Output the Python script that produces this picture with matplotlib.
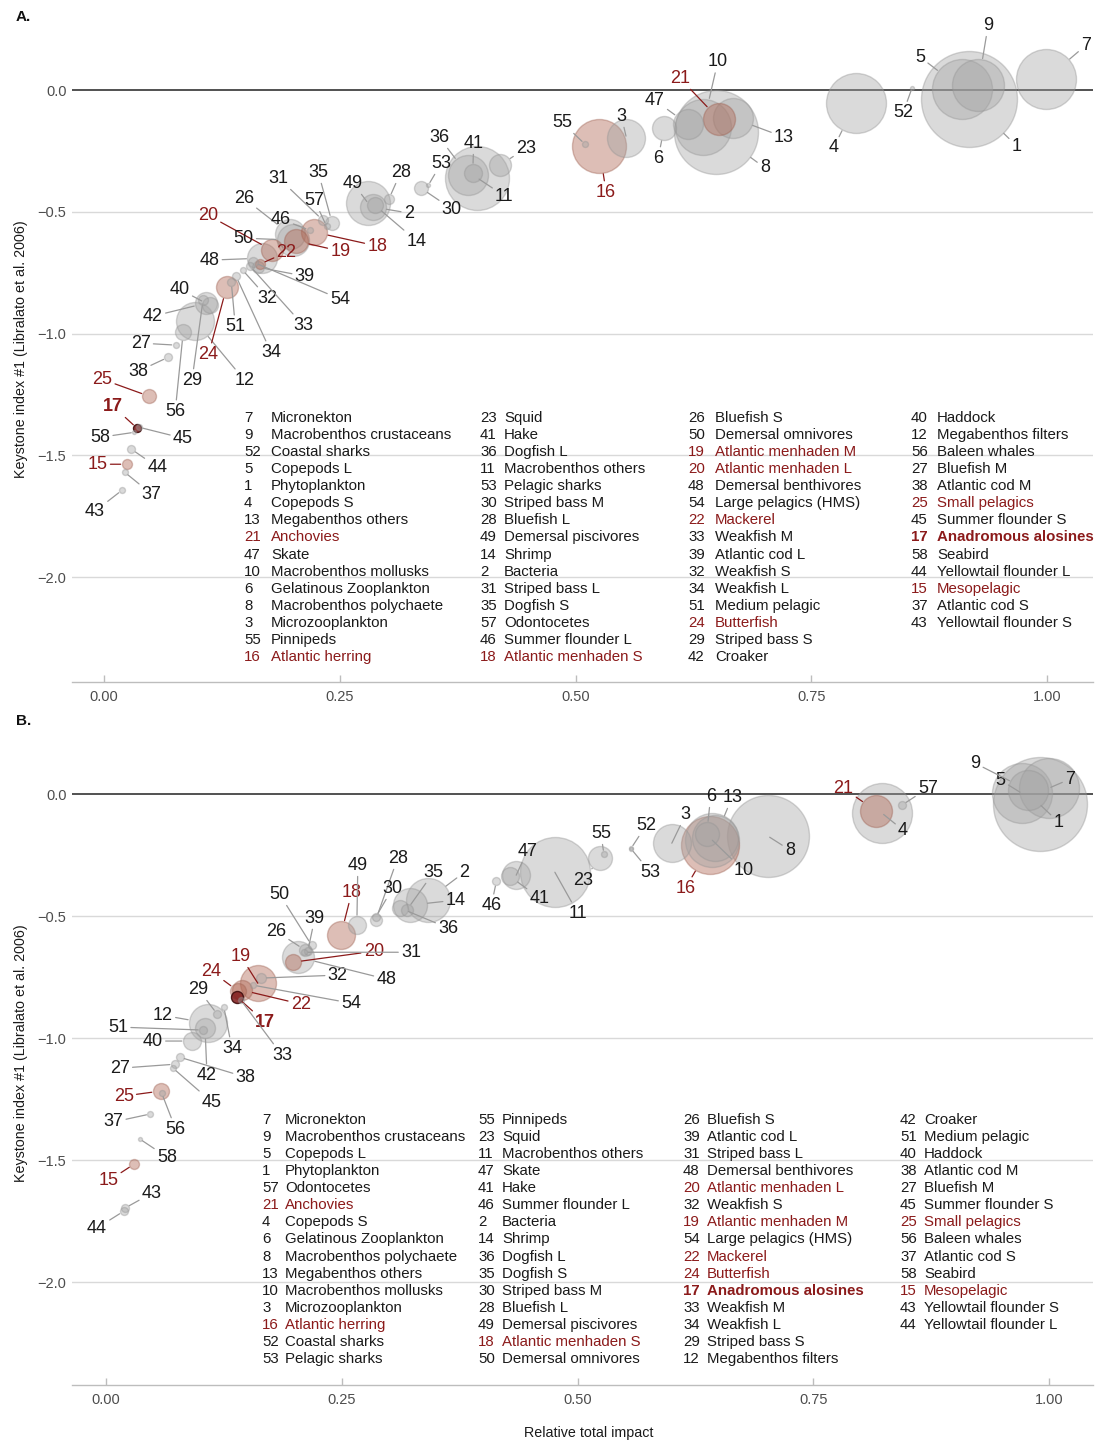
import matplotlib
matplotlib.use("Agg")
import matplotlib.pyplot as plt
import numpy as np

plt.rcParams["font.family"] = ["Liberation Sans", "DejaVu Sans"]

W, H, DPI = 1108, 1443, 100
PT = 72.0 / DPI  # points per pixel

# ---------------------------------------------------------------- groups
group_names = {
    1: "Phytoplankton", 2: "Bacteria", 3: "Microzooplankton", 4: "Copepods S",
    5: "Copepods L", 6: "Gelatinous Zooplankton", 7: "Micronekton",
    8: "Macrobenthos polychaete", 9: "Macrobenthos crustaceans",
    10: "Macrobenthos mollusks", 11: "Macrobenthos others",
    12: "Megabenthos filters", 13: "Megabenthos others", 14: "Shrimp",
    15: "Mesopelagic", 16: "Atlantic herring", 17: "Anadromous alosines",
    18: "Atlantic menhaden S", 19: "Atlantic menhaden M",
    20: "Atlantic menhaden L", 21: "Anchovies", 22: "Mackerel", 23: "Squid",
    24: "Butterfish", 25: "Small pelagics", 26: "Bluefish S", 27: "Bluefish M",
    28: "Bluefish L", 29: "Striped bass S", 30: "Striped bass M",
    31: "Striped bass L", 32: "Weakfish S", 33: "Weakfish M", 34: "Weakfish L",
    35: "Dogfish S", 36: "Dogfish L", 37: "Atlantic cod S", 38: "Atlantic cod M",
    39: "Atlantic cod L", 40: "Haddock", 41: "Hake", 42: "Croaker",
    43: "Yellowtail flounder S", 44: "Yellowtail flounder L",
    45: "Summer flounder S", 46: "Summer flounder L", 47: "Skate",
    48: "Demersal benthivores", 49: "Demersal piscivores",
    50: "Demersal omnivores", 51: "Medium pelagic", 52: "Coastal sharks",
    53: "Pelagic sharks", 54: "Large pelagics (HMS)", 55: "Pinnipeds",
    56: "Baleen whales", 57: "Odontocetes", 58: "Seabird",
}
node_ids = list(range(1, 59))
forage_groups = [15, 16, 17, 18, 19, 20, 21, 22, 24, 25]
focal_group = 17

# ---------------------------------------------------------------- panel A
impact_a = [0.917, 0.285, 0.554, 0.797, 0.910, 0.594, 0.999, 0.649, 0.927, 0.635,
            0.396, 0.097, 0.667, 0.287, 0.024, 0.525, 0.035, 0.223, 0.204, 0.178,
            0.652, 0.165, 0.420, 0.130, 0.048, 0.197, 0.076, 0.302, 0.105, 0.336,
            0.232, 0.147, 0.155, 0.140, 0.242, 0.386, 0.022, 0.068, 0.163, 0.112,
            0.391, 0.108, 0.019, 0.029, 0.037, 0.218, 0.619, 0.168, 0.280, 0.200,
            0.135, 0.857, 0.344, 0.158, 0.510, 0.084, 0.236, 0.032]
keystone_a = [-0.037, -0.480, -0.197, -0.053, 0.004, -0.156, 0.045, -0.172, 0.020, -0.150,
              -0.361, -0.949, -0.115, -0.472, -1.536, -0.230, -1.388, -0.583, -0.620, -0.657,
              -0.119, -0.715, -0.308, -0.809, -1.257, -0.591, -1.047, -0.448, -0.862, -0.402,
              -0.534, -0.739, -0.723, -0.764, -0.546, -0.349, -1.569, -1.097, -0.727, -0.883,
              -0.341, -0.875, -1.643, -1.474, -1.384, -0.575, -0.140, -0.690, -0.464, -0.616,
              -0.789, 0.010, -0.390, -0.706, -0.222, -0.994, -0.559, -1.405]
biomass_a = [48, 13, 19, 30, 30, 12, 30, 42, 26, 28,
             32, 19, 20, 8, 5, 27, 4, 13, 12, 11,
             16, 5, 11, 11, 7, 15, 3, 5, 5, 7,
             5, 3, 4, 4, 7, 20, 3, 4, 6, 8,
             9, 11, 3, 4, 3, 3, 15, 15, 22, 16,
             4, 2, 2, 5, 3, 8, 3, 2]
legend_a = [
    [7, 9, 52, 5, 1, 4, 13, 21, 47, 10, 6, 8, 3, 55, 16],
    [23, 41, 36, 11, 53, 30, 28, 49, 14, 2, 31, 35, 57, 46, 18],
    [26, 50, 19, 20, 48, 54, 22, 33, 39, 32, 34, 51, 24, 29, 42],
    [40, 12, 56, 27, 38, 25, 45, 17, 58, 44, 15, 37, 43],
]

# ---------------------------------------------------------------- panel B
impact_b = [0.990, 0.341, 0.600, 0.823, 0.971, 0.637, 1.000, 0.702, 0.978, 0.643,
            0.476, 0.108, 0.646, 0.322, 0.030, 0.641, 0.139, 0.249, 0.161, 0.198,
            0.817, 0.144, 0.524, 0.140, 0.058, 0.211, 0.073, 0.286, 0.118, 0.286,
            0.210, 0.164, 0.143, 0.125, 0.319, 0.312, 0.047, 0.078, 0.214, 0.091,
            0.428, 0.105, 0.020, 0.019, 0.071, 0.414, 0.435, 0.204, 0.266, 0.218,
            0.103, 0.557, 0.557, 0.156, 0.528, 0.059, 0.844, 0.036]
keystone_b = [-0.041, -0.434, -0.201, -0.078, 0.004, -0.164, 0.025, -0.172, 0.016, -0.189,
              -0.320, -0.939, -0.180, -0.455, -1.516, -0.209, -0.832, -0.578, -0.775, -0.689,
              -0.070, -0.803, -0.262, -0.807, -1.217, -0.639, -1.107, -0.516, -0.902, -0.504,
              -0.648, -0.754, -0.844, -0.873, -0.475, -0.467, -1.311, -1.078, -0.643, -1.012,
              -0.336, -0.959, -1.697, -1.709, -1.123, -0.357, -0.332, -0.668, -0.537, -0.619,
              -0.967, -0.221, -0.225, -0.783, -0.246, -1.225, -0.045, -1.414]
biomass_b = [47, 22, 19, 30, 30, 12, 30, 41, 20, 27,
             35, 19, 23, 17, 5, 29, 6, 14, 18, 8,
             16, 10, 12, 8, 8, 6, 4, 6, 4, 4,
             3, 5, 3, 3, 6, 8, 3, 4, 4, 9,
             9, 10, 4, 4, 3, 4, 14, 16, 9, 4,
             4, 2, 2, 3, 3, 3, 4, 2]
legend_b = [
    [7, 9, 5, 1, 57, 21, 4, 6, 8, 13, 10, 3, 16, 52, 53],
    [55, 23, 11, 47, 41, 46, 2, 14, 36, 35, 30, 28, 49, 18, 50],
    [26, 39, 31, 48, 20, 32, 19, 54, 22, 24, 17, 33, 34, 29, 12],
    [42, 51, 40, 38, 27, 45, 25, 56, 37, 58, 15, 43, 44],
]

# label offsets from each bubble, in pixels (right, up)
offsets_a = {
    1: (48, -47), 2: (36, -6), 3: (-5, 22), 4: (-22, -45), 5: (-42, 32),
    6: (-6, -30), 7: (40, 34), 8: (49, -36), 9: (10, 60), 10: (15, 65),
    11: (27, -18), 12: (49, -59), 13: (51, -19), 14: (42, -36), 15: (-29, 0),
    16: (7, -46), 17: (-24, 22), 18: (63, -14), 19: (44, -10), 20: (-64, 35),
    21: (-39, 41), 22: (27, 12), 23: (26, 17), 24: (-18, -67), 25: (-47, 17),
    26: (-46, 36), 27: (-35, 2), 28: (12, 27), 29: (-11, -80), 30: (31, -21),
    31: (-44, 42), 32: (25, -28), 33: (53, -59), 34: (35, -76), 35: (-14, 51),
    36: (-29, 38), 37: (27, -22), 38: (-30, -14), 39: (47, -9), 40: (-30, 16),
    41: (1, 30), 42: (-53, -13), 43: (-27, -21), 44: (26, -18), 45: (44, -11),
    46: (-29, 11), 47: (-33, 24), 48: (-53, -2), 49: (-15, 20), 50: (-49, 2),
    51: (4, -44), 52: (-9, -25), 53: (13, 22), 54: (87, -37), 55: (-23, 22),
    56: (-8, -79), 57: (-12, 26), 58: (-34, -5),
}
offsets_b = {
    1: (19, -18), 2: (37, 28), 3: (14, 29), 4: (21, -17), 5: (-21, 13),
    6: (4, 38), 7: (21, 9), 8: (22, -14), 9: (-53, 27), 10: (31, -30),
    11: (23, -41), 12: (-45, 8), 13: (17, 41), 14: (46, 5), 15: (-26, -17),
    16: (-25, -43), 17: (28, -25), 18: (11, 43), 19: (-17, 27), 20: (81, 11),
    21: (-33, 23), 22: (59, -14), 23: (-17, -22), 24: (-27, 20), 25: (-37, -5),
    26: (-29, 19), 27: (-55, -4), 28: (22, 62), 29: (-19, 25), 30: (17, 29),
    31: (107, 0), 32: (77, 3), 33: (41, -55), 34: (8, -41), 35: (27, 38),
    36: (48, -20), 37: (-37, -8), 38: (66, -20), 39: (7, 33), 40: (-39, 0),
    41: (30, -22), 42: (2, -47), 43: (27, 15), 44: (-27, -17), 45: (39, -34),
    46: (-5, -24), 47: (11, 24), 48: (88, -22), 49: (1, 60), 50: (-32, 51),
    51: (-85, 3), 52: (15, 23), 53: (19, -23), 54: (98, -18), 55: (-3, 21),
    56: (14, -36), 57: (26, 17), 58: (27, -18),
}

# ---------------------------------------------------------------- styling
RED = "#8B1A1A"
INK = "#1a1a1a"
GRAY_FILL = (0.64, 0.64, 0.64, 0.40)
GRAY_EDGE = (0.58, 0.58, 0.58, 0.40)
RED_FILL = (0.69, 0.40, 0.32, 0.42)
RED_EDGE = (0.62, 0.38, 0.32, 0.40)
FOCAL_FILL = (0.50, 0.10, 0.10, 0.85)
FOCAL_EDGE = (0.25, 0.05, 0.05, 0.9)

fig = plt.figure(figsize=(W / DPI, H / DPI), dpi=DPI)


def draw_panel(top_px, bottom_px, x0_px, ylim_low, impact, keystone, biomass,
               offsets, legend, leg_num_x, leg_name_x, leg_y0, tag, show_xlabel):
    left_px, right_px = 72, 1093
    ax = fig.add_axes([left_px / W, 1 - bottom_px / H,
                       (right_px - left_px) / W, (bottom_px - top_px) / H])
    ax.set_xlim(-(x0_px - left_px) / 943.0, (right_px - x0_px) / 943.0)
    ax.set_ylim(ylim_low, 0.3)

    for s in ("top", "right", "left"):
        ax.spines[s].set_visible(False)
    ax.spines["bottom"].set_color("#bdbdbd")
    ax.spines["bottom"].set_linewidth(1.0)

    yt = [0.0, -0.5, -1.0, -1.5, -2.0]
    ax.set_yticks(yt)
    ax.set_yticklabels([f"{v:.1f}".replace("-", "\u2212") for v in yt])
    ax.set_xticks([0.0, 0.25, 0.5, 0.75, 1.0])
    ax.set_xticklabels(["0.00", "0.25", "0.50", "0.75", "1.00"])
    ax.tick_params(axis="y", length=0, pad=4, labelsize=10.5, labelcolor="#4d4d4d")
    ax.tick_params(axis="x", direction="in", length=5, width=1, color="#bdbdbd",
                   pad=6, labelsize=10.5, labelcolor="#4d4d4d")

    for gy in [-0.5, -1.0, -1.5, -2.0]:
        ax.axhline(gy, color="#d9d9d9", lw=1.0, zorder=0)
    ax.axhline(0.0, color="#333333", lw=1.2, zorder=1)

    ax.set_ylabel("Keystone index #1 (Libralato et al. 2006)", fontsize=10.3, color="#1a1a1a")
    ax.yaxis.set_label_coords(-0.043, 0.5)

    x = np.array(impact)
    y = np.array(keystone)
    r = np.array(biomass, dtype=float)
    order = np.argsort(-r, kind="stable")
    for i in order:
        nid = node_ids[i]
        if nid == focal_group:
            fc, ec = FOCAL_FILL, FOCAL_EDGE
        elif nid in forage_groups:
            fc, ec = RED_FILL, RED_EDGE
        else:
            fc, ec = GRAY_FILL, GRAY_EDGE
        ax.scatter([x[i]], [y[i]], s=(2 * r[i] * PT) ** 2, facecolor=fc,
                   edgecolor=ec, linewidth=1.0, zorder=2 + 0.01 * (60 - r[i]))

    for i, nid in enumerate(node_ids):
        dx, dy = offsets[nid]
        dist = np.hypot(dx, dy)
        rad = r[i]
        shrink = rad + 1 if dist > rad + 12 else 2
        red = nid in forage_groups
        ax.annotate(str(nid), xy=(x[i], y[i]), xytext=(dx * PT, dy * PT),
                    textcoords="offset points", ha="center", va="center",
                    fontsize=13, color=RED if red else INK,
                    fontweight="bold" if nid == focal_group else "normal",
                    arrowprops=dict(arrowstyle="-", color=RED if red else "#9a9a9a",
                                    lw=0.9, shrinkA=0, shrinkB=shrink * PT),
                    zorder=6)

    # numbered key of functional groups
    for c, col in enumerate(legend):
        for k, nid in enumerate(col):
            yy = 1 - (leg_y0 + k * 17.07) / H
            red = nid in forage_groups
            kw = dict(fontsize=10.8, va="center", ha="left",
                      color=RED if red else INK,
                      fontweight="bold" if nid == focal_group else "normal")
            fig.text(leg_num_x[c] / W, yy, str(nid), **kw)
            fig.text(leg_name_x[c] / W, yy, group_names[nid], **kw)

    fig.text(16 / W, 1 - (top_px + 0) / H, tag, fontsize=11, fontweight="bold",
             ha="left", va="center", color="#111111")
    if show_xlabel:
        fig.text(589 / W, 1 - 1433 / H, "Relative total impact", fontsize=10.3,
                 ha="center", va="center", color="#1a1a1a")
    return ax


draw_panel(17, 682, 104, -2.43, impact_a, keystone_a, biomass_a, offsets_a,
           legend_a, [244, 480, 688, 911], [271, 504, 715, 937], 418, "A.", False)
draw_panel(721, 1385, 106, -2.422, impact_b, keystone_b, biomass_b, offsets_b,
           legend_b, [262, 478, 683, 900], [285, 502, 707, 924], 1120, "B.", True)

fig.savefig("out.png", dpi=DPI)
